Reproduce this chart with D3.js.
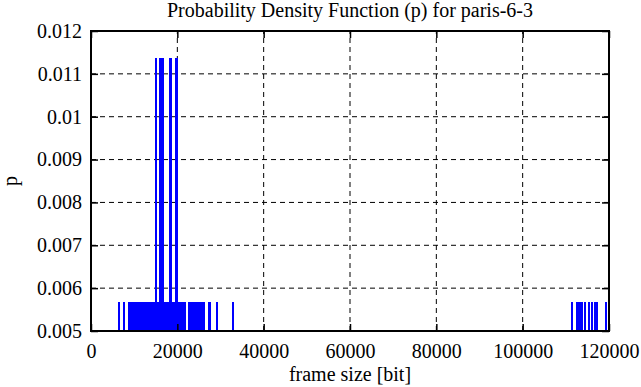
<!DOCTYPE html>
<html>
<head>
<meta charset="utf-8">
<script src="https://cdn.jsdelivr.net/npm/d3@7"></script>
<style>
  body { margin: 0; background: #fff; }
</style>
</head>
<body>
<div id="chart"></div>
<script>
// frame sizes [bit] seen once (p = 1/176) and twice (p = 2/176)
const sizesOnce = [
  6500, 7660,
  8700, 9000, 9300, 9600, 9900, 10200, 10500, 10800, 11100, 11400, 11700,
  12000, 12300, 12600, 12900, 13200, 13500, 13800, 14100, 14400, 14700,
  15000, 15400, 15700, 16000, 16300, 16700, 17000, 17300, 17600, 17900,
  18200, 18500, 18800, 19100, 19400, 19700, 20000, 20300, 20600, 20900,
  21200, 21500, 21850,
  22600, 22900, 23200, 23500, 23800, 24100, 24400, 24700, 25000, 25300,
  25600, 25900, 26250,
  27300, 27650, 29100, 32900,
  111340, 112650, 112950, 113250, 113550, 113850, 114380, 115350, 115980,
  116750, 117260, 119250
];
const sizesTwice = [15100, 15900, 16250, 16600, 18200, 18450, 19750, 20000];
const pOnce = 0.005682;
const pTwice = 0.011364;

const xTicks = [0, 20000, 40000, 60000, 80000, 100000, 120000];
const yTicks = [0.005, 0.006, 0.007, 0.008, 0.009, 0.01, 0.011, 0.012];

const titleText = "Probability Density Function (p) for paris-6-3";
const xLabel = "frame size [bit]";
const yLabel = "p";

const data = sizesOnce.map(s => ({size: s, p: pOnce}))
  .concat(sizesTwice.map(s => ({size: s, p: pTwice})));

const serif = "Liberation Serif";
const W = 641, H = 387;
const margin = {top: 31, right: 32, bottom: 56, left: 91};

const svg = d3.select("#chart").append("svg")
  .attr("width", W)
  .attr("height", H)
  .attr("font-family", serif);

const x = d3.scaleLinear()
  .domain([0, 120000])
  .range([margin.left, W - margin.right]);
const y = d3.scaleLinear()
  .domain([0.005, 0.012])
  .range([H - margin.bottom, margin.top]);

// grid
svg.append("g")
  .selectAll("line")
  .data(xTicks.slice(1, -1))
  .join("line")
    .attr("x1", d => x(d)).attr("x2", d => x(d))
    .attr("y1", y(0.005)).attr("y2", y(0.012))
    .attr("stroke", "#000")
    .attr("stroke-dasharray", "5,4");
svg.append("g")
  .selectAll("line")
  .data(yTicks.slice(1, -1))
  .join("line")
    .attr("x1", x(0)).attr("x2", x(120000))
    .attr("y1", d => y(d)).attr("y2", d => y(d))
    .attr("stroke", "#000")
    .attr("stroke-dasharray", "5,4");

// impulses
svg.append("g")
  .attr("shape-rendering", "crispEdges")
  .selectAll("line")
  .data(data)
  .join("line")
    .attr("x1", d => x(d.size)).attr("x2", d => x(d.size))
    .attr("y1", y(0.005)).attr("y2", d => y(d.p))
    .attr("stroke", "#0000ff")
    .attr("stroke-width", 2);

// axes with inward ticks
const tickLen = 7;
const fixFont = g => g.attr("font-family", serif).attr("font-size", 20);
svg.append("g")
  .attr("transform", `translate(0,${y(0.005)})`)
  .call(d3.axisBottom(x).tickValues(xTicks).tickSize(-tickLen).tickPadding(13).tickFormat(d3.format("d")))
  .call(fixFont)
  .call(g => g.select(".domain").remove());
svg.append("g")
  .attr("transform", `translate(0,${y(0.012)})`)
  .call(d3.axisTop(x).tickValues(xTicks).tickSize(-tickLen).tickFormat(""))
  .call(g => g.select(".domain").remove());
svg.append("g")
  .attr("transform", `translate(${x(0)},0)`)
  .call(d3.axisLeft(y).tickValues(yTicks).tickSize(-tickLen).tickPadding(9).tickFormat(d3.format("")))
  .call(fixFont)
  .call(g => g.select(".domain").remove());
svg.append("g")
  .attr("transform", `translate(${x(120000)},0)`)
  .call(d3.axisRight(y).tickValues(yTicks).tickSize(-tickLen).tickFormat(""))
  .call(g => g.select(".domain").remove());

svg.selectAll(".tick line").attr("stroke", "#000").attr("stroke-width", 1.5);
svg.selectAll(".tick text").attr("fill", "#000");

// border
svg.append("rect")
  .attr("x", x(0)).attr("y", y(0.012))
  .attr("width", x(120000) - x(0))
  .attr("height", y(0.005) - y(0.012))
  .attr("fill", "none")
  .attr("stroke", "#000")
  .attr("stroke-width", 2);

svg.append("text")
  .attr("x", (x(0) + x(120000)) / 2)
  .attr("y", 17)
  .attr("text-anchor", "middle")
  .attr("font-size", 20)
  .text(titleText);

svg.append("text")
  .attr("x", (x(0) + x(120000)) / 2)
  .attr("y", 381)
  .attr("text-anchor", "middle")
  .attr("font-size", 20)
  .text(xLabel);

svg.append("text")
  .attr("transform", `translate(17,${(y(0.005) + y(0.012)) / 2}) rotate(-90)`)
  .attr("text-anchor", "middle")
  .attr("font-size", 20)
  .text(yLabel);
</script>
</body>
</html>
